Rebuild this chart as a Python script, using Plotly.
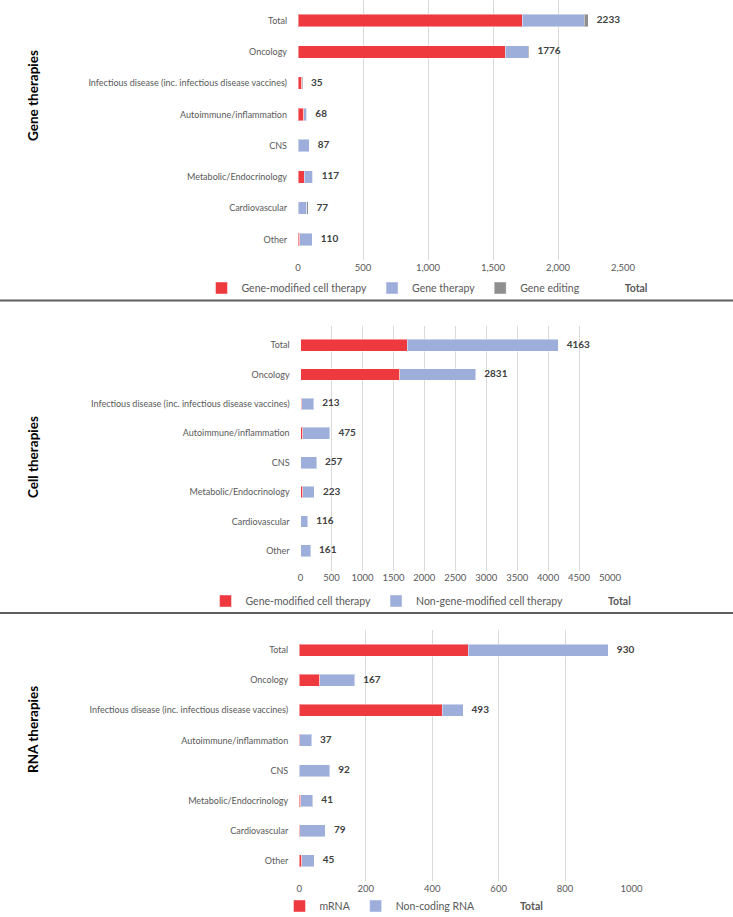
import plotly.graph_objects as go

categories = ["Total", "Oncology", "Infectious disease (inc. infectious disease vaccines)",
              "Autoimmune/inflammation", "CNS", "Metabolic/Endocrinology", "Cardiovascular", "Other"]

# Gene therapies
gene_gmct = [1725, 1595, 28, 44, 3, 48, 2, 14]
gene_gt = [478, 178, 5, 22, 82, 66, 65, 94]
gene_ge = [30, 3, 2, 2, 2, 3, 10, 2]
gene_total = [2233, 1776, 35, 68, 87, 117, 77, 110]

# Cell therapies
cell_gmct = [1723, 1602, 15, 38, 3, 38, 0, 5]
cell_ngm = [2440, 1229, 198, 437, 254, 185, 116, 156]
cell_total = [4163, 2831, 213, 475, 257, 223, 116, 161]

# RNA therapies
rna_mrna = [508, 62, 430, 1, 0, 5, 1, 7]
rna_nc = [422, 105, 63, 36, 92, 36, 78, 38]
rna_total = [930, 167, 493, 37, 92, 41, 79, 45]

gene_ticks = [0, 500, 1000, 1500, 2000, 2500]
gene_ticktext = ["0", "500", "1,000", "1,500", "2,000", "2,500"]
cell_ticks = [0, 500, 1000, 1500, 2000, 2500, 3000, 3500, 4000, 4500, 5000]
rna_ticks = [0, 200, 400, 600, 800, 1000]

RED = "#EE3A3F"
BLUE = "#9DAEDB"
GRAY = "#8E8E8E"
LBL = "#595959"
FONT = "Lato, sans-serif"

W, H = 733, 917

fig = go.Figure()

def bar(x, name, color, xa, ya, legend):
    fig.add_trace(go.Bar(y=categories, x=x, name=name, orientation="h",
                         marker=dict(color=color, line=dict(color="rgba(255,255,255,0.45)", width=1)),
                         xaxis=xa, yaxis=ya, legend=legend))

def totals(x, xa, ya, legend):
    fig.add_trace(go.Scatter(y=categories, x=x, mode="markers+text", name="<b>Total</b>",
                             text=[str(v) for v in x], textposition="middle right",
                             textfont=dict(family=FONT, size=10, color="#404040", weight="bold"),
                             marker=dict(size=12, color="rgba(0,0,0,0)"),
                             xaxis=xa, yaxis=ya, legend=legend, cliponaxis=False))

bar(gene_gmct, "Gene-modified cell therapy", RED, "x", "y", "legend")
bar(gene_gt, "Gene therapy", BLUE, "x", "y", "legend")
bar(gene_ge, "Gene editing", GRAY, "x", "y", "legend")
totals(gene_total, "x", "y", "legend")

bar(cell_gmct, "Gene-modified cell therapy", RED, "x2", "y2", "legend2")
bar(cell_ngm, "Non-gene-modified cell therapy", BLUE, "x2", "y2", "legend2")
totals(cell_total, "x2", "y2", "legend2")

bar(rna_mrna, "mRNA", RED, "x3", "y3", "legend3")
bar(rna_nc, "Non-coding RNA", BLUE, "x3", "y3", "legend3")
totals(rna_total, "x3", "y3", "legend3")

def px_x(a, b):
    return [a / W, b / W]

def px_y(top, bottom):
    return [1 - bottom / H, 1 - top / H]

xcommon = dict(showgrid=True, gridcolor="#D9D9D9", gridwidth=1, zeroline=False,
               showline=False, ticks="", tickfont=dict(family=FONT, size=9.5, color=LBL),
               fixedrange=True, automargin=False)
ycommon = dict(type="category", categoryorder="array", categoryarray=categories,
               autorange="reversed", showgrid=False, zeroline=False, showline=False,
               ticks="", ticklabelstandoff=10, automargin=False, fixedrange=True,
               tickfont=dict(family=FONT, size=9, color=LBL))

fig.update_layout(
    width=W, height=H, margin=dict(l=0, r=0, t=0, b=0, autoexpand=False),
    paper_bgcolor="white", plot_bgcolor="white",
    barmode="stack", bargap=0.6, showlegend=True,
    xaxis=dict(xcommon, domain=px_x(298, 623), range=[0, 2500], tickvals=gene_ticks,
               ticktext=gene_ticktext, anchor="y"),
    yaxis=dict(ycommon, domain=px_y(0, 260), anchor="x"),
    xaxis2=dict(xcommon, domain=px_x(300.6, 610), range=[0, 5000], tickvals=cell_ticks, anchor="y2"),
    yaxis2=dict(ycommon, domain=px_y(325.5, 570.5), anchor="x2"),
    xaxis3=dict(xcommon, domain=px_x(299.2, 631.6), range=[0, 1000], tickvals=rna_ticks, anchor="y3"),
    yaxis3=dict(ycommon, domain=px_y(630, 881), anchor="x3"),
)

legend_common = dict(orientation="h", xanchor="center", yanchor="middle",
                     font=dict(family=FONT, size=10.5, color=LBL), itemwidth=30,
                     bgcolor="rgba(0,0,0,0)", tracegroupgap=0, traceorder="normal")
fig.update_layout(
    legend=dict(legend_common, x=427 / W, y=1 - 288 / H),
    legend2=dict(legend_common, x=421 / W, y=1 - 601 / H),
    legend3=dict(legend_common, x=414 / W, y=1 - 906 / H),
)

# panel titles
for txt, yc in [("Gene therapies", 96), ("Cell therapies", 457), ("RNA therapies", 730)]:
    fig.add_annotation(text=txt, x=33 / W, y=1 - yc / H, xref="paper", yref="paper",
                       xanchor="center", yanchor="middle",
                       textangle=-90, showarrow=False,
                       font=dict(family=FONT, size=13.5, color="black", weight="bold"))

# separators
for yy in [300.5, 613]:
    fig.add_shape(type="line", xref="paper", yref="paper", x0=0, x1=1,
                  y0=1 - yy / H, y1=1 - yy / H, line=dict(color="#5F5F5F", width=2))

fig.write_html("out.html", config={"displayModeBar": False},
               post_script="document.body.style.margin='0';document.body.style.overflow='hidden';")
